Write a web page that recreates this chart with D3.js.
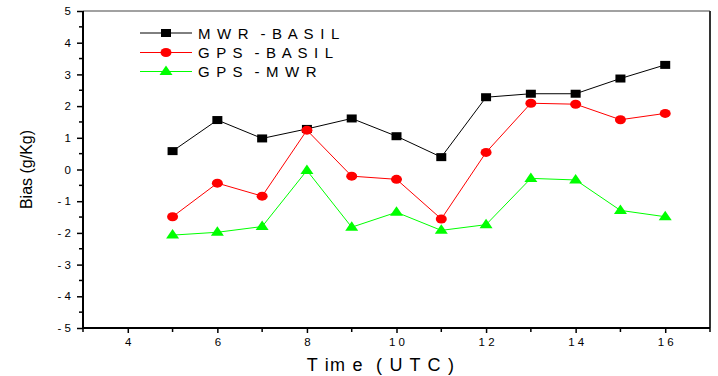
<!DOCTYPE html>
<html>
<head>
<meta charset="utf-8">
<script src="https://cdn.jsdelivr.net/npm/d3@7/dist/d3.min.js"></script>
<style>
  html, body { margin: 0; padding: 0; background: #fff; }
  svg { display: block; font-family: "Liberation Sans", Arial, sans-serif; }
  svg text { white-space: pre; }
</style>
</head>
<body>
<svg id="chart" width="718" height="376"></svg>
<script>
// Hour of day (UTC)
const hours = [5, 6, 7, 8, 9, 10, 11, 12, 13, 14, 15, 16];
// Specific humidity bias (g/Kg)
const mwrBasil = [0.58, 1.56, 0.98, 1.28, 1.61, 1.05, 0.39, 2.28, 2.39, 2.39, 2.87, 3.30];
const gpsBasil = [-1.49, -0.43, -0.84, 1.24, -0.21, -0.31, -1.56, 0.54, 2.09, 2.06, 1.57, 1.77];
const gpsMwr = [-2.07, -1.98, -1.80, -0.03, -1.82, -1.35, -1.92, -1.74, -0.28, -0.33, -1.29, -1.49];

const seriesNames = ["M W R  - B A S I L", "G P S  - B A S I L", "G P S  - M W R"];
const xTicks = [4, 6, 8, 10, 12, 14, 16];
const yTicks = [-5, -4, -3, -2, -1, 0, 1, 2, 3, 4, 5];

const series = [
  { name: seriesNames[0], values: mwrBasil, color: "#000000", marker: "square" },
  { name: seriesNames[1], values: gpsBasil, color: "#ff0000", marker: "circle" },
  { name: seriesNames[2], values: gpsMwr, color: "#00ff00", marker: "triangle" }
];

const svg = d3.select("#chart");
const L = 83, R = 710, T = 11, B = 328;

const x = d3.scaleLinear().domain([3, 17]).range([L, R]);
const y = d3.scaleLinear().domain([-5, 5]).range([B, T]);

// Frame: top and right edges
svg.append("line").attr("x1", L).attr("x2", R).attr("y1", T).attr("y2", T)
  .attr("stroke", "#444").attr("stroke-width", 1.2);
svg.append("line").attr("x1", R).attr("x2", R).attr("y1", T).attr("y2", B)
  .attr("stroke", "#333").attr("stroke-width", 2);

// spaced-out digits for tick labels
const spaced = s => String(s).split("").join(" ");

// X axis
const xAxis = d3.axisBottom(x).tickValues(xTicks).tickSize(5).tickPadding(5)
  .tickFormat(d => spaced(d));
const gx = svg.append("g").attr("transform", `translate(0,${B})`).call(xAxis);
gx.select(".domain").attr("stroke-width", 2).attr("d", `M${L},0H${R}`);
gx.selectAll(".tick line").attr("stroke-width", 1.5);
gx.selectAll("text").attr("font-size", 11.5).attr("fill", "#000")
  .attr("font-family", "Liberation Sans, Arial, sans-serif");
const gxMinor = svg.append("g").attr("transform", `translate(0,${B})`);
gxMinor.selectAll("line").data(d3.range(3, 18, 2)).join("line")
  .attr("x1", d => x(d)).attr("x2", d => x(d)).attr("y1", 0).attr("y2", 4)
  .attr("stroke", "#000").attr("stroke-width", 1.5);

// Y axis
const yAxis = d3.axisLeft(y).tickValues(yTicks).tickSize(6).tickPadding(6)
  .tickFormat(d => d < 0 ? "- " + Math.abs(d) : String(d));
const gy = svg.append("g").attr("transform", `translate(${L},0)`).call(yAxis);
gy.select(".domain").attr("stroke-width", 2).attr("d", `M0,${T}V${B}`);
gy.selectAll(".tick line").attr("stroke-width", 1.5);
gy.selectAll("text").attr("font-size", 11.5).attr("fill", "#000")
  .attr("font-family", "Liberation Sans, Arial, sans-serif");
const gyMinor = svg.append("g").attr("transform", `translate(${L},0)`);
gyMinor.selectAll("line").data(d3.range(-4.5, 5, 1)).join("line")
  .attr("x1", -4).attr("x2", 0).attr("y1", d => y(d)).attr("y2", d => y(d))
  .attr("stroke", "#000").attr("stroke-width", 1.5);

// Axis titles
svg.append("text").attr("x", 381).attr("y", 371).attr("text-anchor", "middle")
  .attr("font-size", 18).attr("letter-spacing", 1.2).text("T im e  ( U T C )");
svg.append("text").attr("transform", `translate(32,${y(0)}) rotate(-90)`)
  .attr("text-anchor", "middle").attr("font-size", 16).text("Bias (g/Kg)");

// Marker drawing
function drawMarker(g, type, color) {
  if (type === "square") {
    g.append("rect").attr("x", -5).attr("y", -4).attr("width", 10).attr("height", 8)
      .attr("fill", color);
  } else if (type === "circle") {
    g.append("ellipse").attr("rx", 5.5).attr("ry", 4.5).attr("fill", color);
  } else {
    g.append("path").attr("d", "M0,-6L6.5,3.5L-6.5,3.5Z").attr("fill", color);
  }
}

const line = d3.line().x((d, i) => x(hours[i])).y(d => y(d));

series.forEach(s => {
  svg.append("path").datum(s.values).attr("d", line)
    .attr("fill", "none").attr("stroke", s.color).attr("stroke-width", 1);
});
series.forEach(s => {
  s.values.forEach((v, i) => {
    const g = svg.append("g").attr("transform", `translate(${x(hours[i])},${y(v)})`);
    drawMarker(g, s.marker, s.color);
  });
});

// Legend
const legendY = [33, 52.5, 71.5];
series.forEach((s, i) => {
  const g = svg.append("g").attr("transform", `translate(0,${legendY[i]})`);
  g.append("line").attr("x1", 140).attr("x2", 192).attr("y1", 0).attr("y2", 0)
    .attr("stroke", s.color).attr("stroke-width", 1);
  const m = g.append("g").attr("transform", "translate(166,0)");
  drawMarker(m, s.marker, s.color);
  g.append("text").attr("x", 198).attr("y", 5.5).attr("font-size", 15)
    .attr("letter-spacing", 1.2).text(s.name);
});
</script>
</body>
</html>
